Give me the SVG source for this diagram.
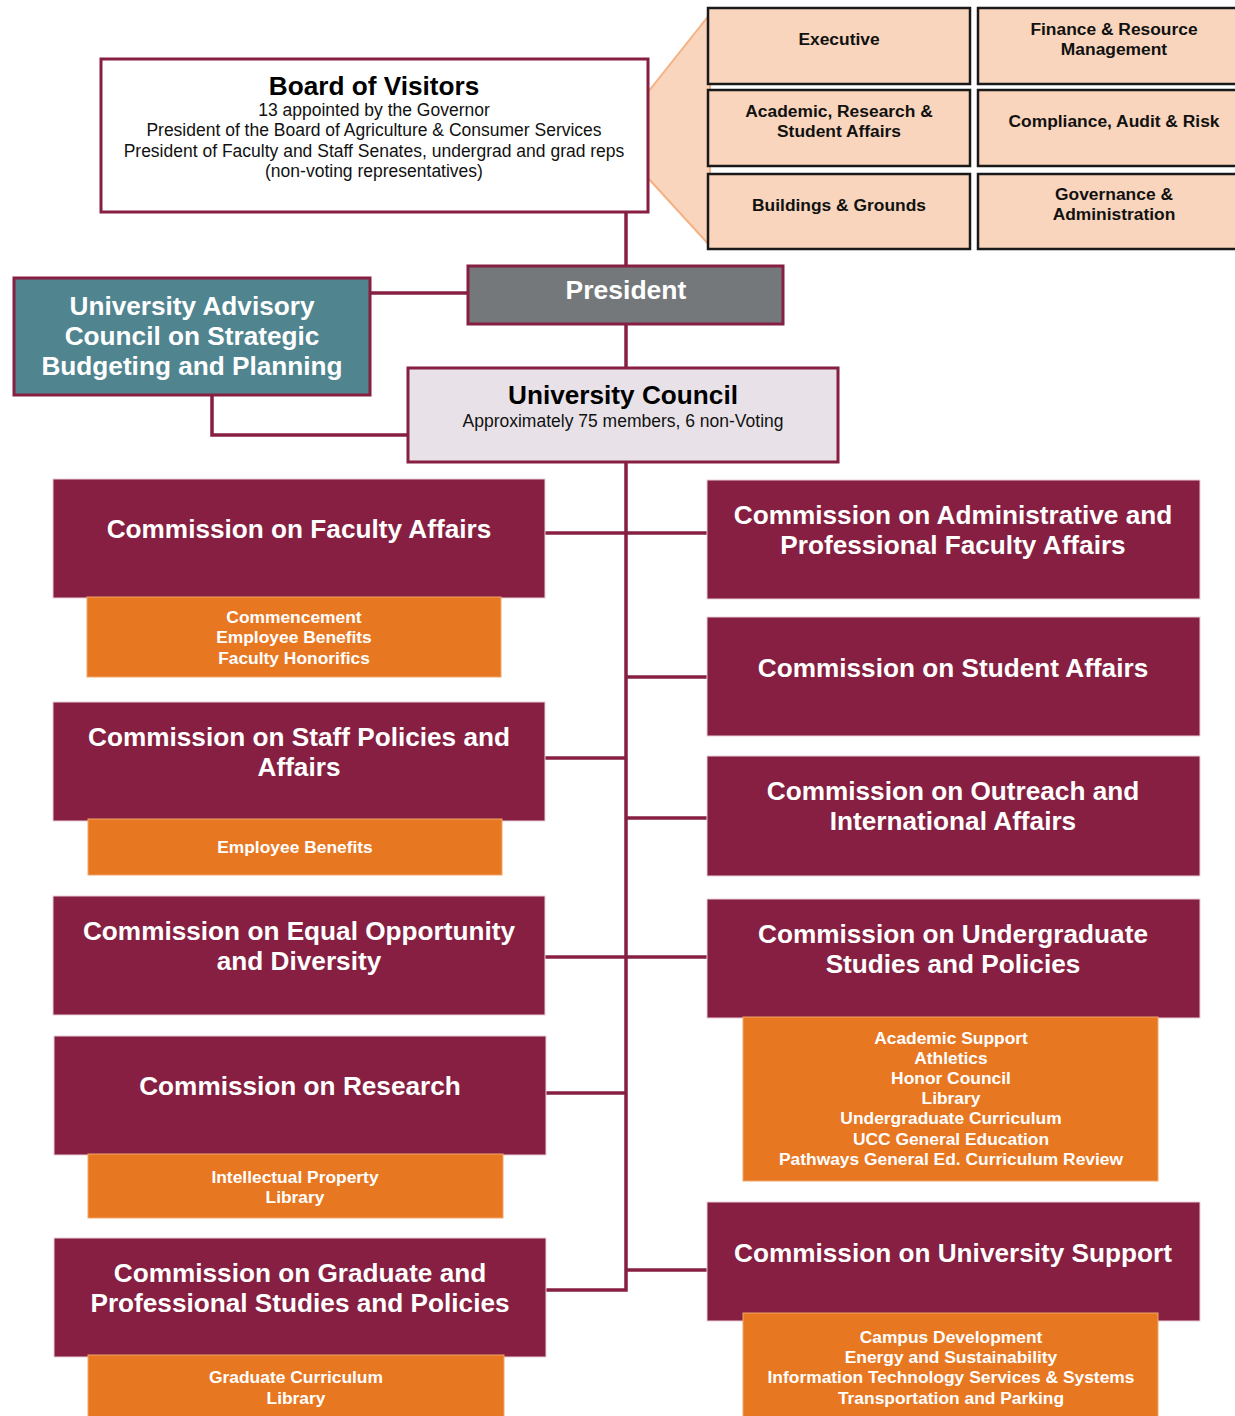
<svg xmlns="http://www.w3.org/2000/svg" width="1235" height="1416" viewBox="0 0 1235 1416">
<style>
.mar{fill:#861F41;stroke:#E8D0D8;stroke-width:1}
.org{fill:#E87722;stroke:#F2A66A;stroke-width:1}
.cmt{fill:#F8D5BC;stroke:#1a1a1a;stroke-width:2.5}
.conn{fill:none;stroke:#861F41;stroke-width:3.5}
text{font-family:"Liberation Sans",Arial,sans-serif;text-anchor:middle}
.ct{font-size:26.2px;font-weight:bold;fill:#fff}
.ot{font-size:17.4px;font-weight:bold;fill:#fff}
.kt{font-size:17.4px;font-weight:bold;fill:#111}
.st{font-size:17.5px;fill:#111}
</style>
<rect width="1235" height="1416" fill="#fff"/>
<g id="connectors">
<line class="conn" x1="626" y1="212" x2="626" y2="266"/>
<line class="conn" x1="626" y1="324" x2="626" y2="368"/>
<polyline class="conn" points="626,462 626,1290 545,1290"/>
<line class="conn" x1="370" y1="293" x2="468" y2="293"/>
<polyline class="conn" points="212,395 212,435 408,435"/>
<line class="conn" x1="545" y1="533" x2="707" y2="533"/>
<line class="conn" x1="626" y1="677" x2="707" y2="677"/>
<line class="conn" x1="545" y1="758" x2="626" y2="758"/>
<line class="conn" x1="626" y1="818" x2="707" y2="818"/>
<line class="conn" x1="545" y1="957" x2="707" y2="957"/>
<line class="conn" x1="545" y1="1093" x2="626" y2="1093"/>
<line class="conn" x1="626" y1="1270" x2="707" y2="1270"/>
</g>
<g id="committees-fan">
<polygon points="648,92 710,14 710,246 648,178" fill="#F8D5BC" stroke="#F4B183" stroke-width="2"/>
</g>
<g id="bov">
<rect x="101" y="59" width="547" height="153" fill="#fff" stroke="#861F41" stroke-width="3"/>
<text x="374" y="95" style="font-size:26.2px;font-weight:bold;fill:#000">Board of Visitors</text>
<text class="st" x="374" y="116">13 appointed by the Governor</text>
<text class="st" x="374" y="136">President of the Board of Agriculture &amp; Consumer Services</text>
<text class="st" x="374" y="157">President of Faculty and Staff Senates, undergrad and grad reps</text>
<text class="st" x="374" y="177">(non-voting representatives)</text>
</g>
<g id="c-executive"><rect class="cmt" x="708" y="8" width="262" height="76"/><text class="kt" x="839" y="45">Executive</text></g>
<g id="c-finance"><rect class="cmt" x="978" y="8" width="262" height="76"/><text class="kt" x="1114" y="35">Finance &amp; Resource</text><text class="kt" x="1114" y="55">Management</text></g>
<g id="c-academic"><rect class="cmt" x="708" y="90" width="262" height="76"/><text class="kt" x="839" y="117">Academic, Research &amp;</text><text class="kt" x="839" y="137">Student Affairs</text></g>
<g id="c-compliance"><rect class="cmt" x="978" y="90" width="262" height="76"/><text class="kt" x="1114" y="127">Compliance, Audit &amp; Risk</text></g>
<g id="c-buildings"><rect class="cmt" x="708" y="174" width="262" height="75"/><text class="kt" x="839" y="211">Buildings &amp; Grounds</text></g>
<g id="c-governance"><rect class="cmt" x="978" y="174" width="262" height="75"/><text class="kt" x="1114" y="200">Governance &amp;</text><text class="kt" x="1114" y="220">Administration</text></g>
<g id="president">
<rect x="468" y="266" width="315" height="58" fill="#75787B" stroke="#861F41" stroke-width="3"/>
<text x="626" y="299" style="font-size:26.5px;font-weight:bold;fill:#fff">President</text>
</g>
<g id="advisory">
<rect x="14" y="278" width="356" height="117" fill="#508590" stroke="#861F41" stroke-width="3"/>
<text class="ct" x="192" y="315">University Advisory</text>
<text class="ct" x="192" y="345">Council on Strategic</text>
<text class="ct" x="192" y="375">Budgeting and Planning</text>
</g>
<g id="council">
<rect x="408" y="368" width="430" height="94" fill="#E8E2E8" stroke="#861F41" stroke-width="3"/>
<text x="623" y="404" style="font-size:26.2px;font-weight:bold;fill:#000">University Council</text>
<text class="st" x="623" y="427">Approximately 75 members, 6 non-Voting</text>
</g>
<g id="faculty">
<rect class="mar" x="53" y="479" width="492" height="119"/>
<text class="ct" x="299" y="538">Commission on Faculty Affairs</text>
<rect class="org" x="87" y="597" width="414" height="80"/>
<text class="ot" x="294" y="623">Commencement</text>
<text class="ot" x="294" y="643">Employee Benefits</text>
<text class="ot" x="294" y="664">Faculty Honorifics</text>
</g>
<g id="staff">
<rect class="mar" x="53" y="702" width="492" height="119"/>
<text class="ct" x="299" y="746">Commission on Staff Policies and</text>
<text class="ct" x="299" y="776">Affairs</text>
<rect class="org" x="88" y="819" width="414" height="56"/>
<text class="ot" x="295" y="853">Employee Benefits</text>
</g>
<g id="equal">
<rect class="mar" x="53" y="896" width="492" height="119"/>
<text class="ct" x="299" y="940">Commission on Equal Opportunity</text>
<text class="ct" x="299" y="970">and Diversity</text>
</g>
<g id="research">
<rect class="mar" x="54" y="1036" width="492" height="119"/>
<text class="ct" x="300" y="1095">Commission on Research</text>
<rect class="org" x="88" y="1154" width="415" height="64"/>
<text class="ot" x="295" y="1183">Intellectual Property</text>
<text class="ot" x="295" y="1203">Library</text>
</g>
<g id="graduate">
<rect class="mar" x="54" y="1238" width="492" height="119"/>
<text class="ct" x="300" y="1282">Commission on Graduate and</text>
<text class="ct" x="300" y="1312">Professional Studies and Policies</text>
<rect class="org" x="88" y="1355" width="416" height="65"/>
<text class="ot" x="296" y="1383">Graduate Curriculum</text>
<text class="ot" x="296" y="1404">Library</text>
</g>
<g id="admin">
<rect class="mar" x="707" y="480" width="493" height="119"/>
<text class="ct" x="953" y="524">Commission on Administrative and</text>
<text class="ct" x="953" y="554">Professional Faculty Affairs</text>
</g>
<g id="student">
<rect class="mar" x="707" y="617" width="493" height="119"/>
<text class="ct" x="953" y="677">Commission on Student Affairs</text>
</g>
<g id="outreach">
<rect class="mar" x="707" y="756" width="493" height="120"/>
<text class="ct" x="953" y="800">Commission on Outreach and</text>
<text class="ct" x="953" y="830">International Affairs</text>
</g>
<g id="undergrad">
<rect class="mar" x="707" y="899" width="493" height="119"/>
<text class="ct" x="953" y="943">Commission on Undergraduate</text>
<text class="ct" x="953" y="973">Studies and Policies</text>
<rect class="org" x="743" y="1017" width="415" height="164"/>
<text class="ot" x="951" y="1044">Academic Support</text>
<text class="ot" x="951" y="1064">Athletics</text>
<text class="ot" x="951" y="1084">Honor Council</text>
<text class="ot" x="951" y="1104">Library</text>
<text class="ot" x="951" y="1124">Undergraduate Curriculum</text>
<text class="ot" x="951" y="1145">UCC General Education</text>
<text class="ot" x="951" y="1165">Pathways General Ed. Curriculum Review</text>
</g>
<g id="support">
<rect class="mar" x="707" y="1202" width="493" height="119"/>
<text class="ct" x="953" y="1262">Commission on University Support</text>
<rect class="org" x="743" y="1313" width="415" height="107"/>
<text class="ot" x="951" y="1343">Campus Development</text>
<text class="ot" x="951" y="1363">Energy and Sustainability</text>
<text class="ot" x="951" y="1383">Information Technology Services &amp; Systems</text>
<text class="ot" x="951" y="1404">Transportation and Parking</text>
</g>
</svg>
